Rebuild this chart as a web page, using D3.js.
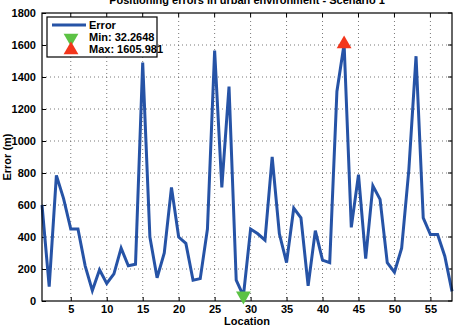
<!DOCTYPE html>
<html>
<head>
<meta charset="utf-8">
<script src="https://cdn.jsdelivr.net/npm/d3@7"></script>
<style>
body { margin: 0; background: #fff; }
text { font-family: "Liberation Sans", Arial, sans-serif; font-weight: bold; }
</style>
</head>
<body>
<svg class="theSvg" width="458" height="326"></svg>
<script>
// location index 1..58 and the error at each one (metres)
var locations = d3.range(1, 59);
var errors = [600, 90, 785, 640, 450, 450, 220, 65, 195, 110,
              170, 330, 220, 230, 1490, 400, 145, 300, 710, 400,
              360, 130, 140, 450, 1565, 710, 1340, 130, 32.2648, 450,
              420, 380, 900, 420, 240, 580, 520, 95, 440, 255,
              240, 1310, 1605.981, 460, 790, 265, 720, 635, 240, 180,
              330, 820, 1530, 520, 415, 415, 280, 60];
var xTicks = [5, 10, 15, 20, 25, 30, 35, 40, 45, 50, 55];
var yTicks = [0, 200, 400, 600, 800, 1000, 1200, 1400, 1600, 1800];
var legendLabels = ["Error", "Min:  32.2648", "Max: 1605.981"];

var margins = {"left": 42, "top": 13, "right": 6, "bottom": 25};
var w = 458 - margins.left - margins.right;
var h = 326 - margins.top - margins.bottom;

var lineBlue = "#2653a6";

var x = d3.scaleLinear().domain([1, 58]).range([0, w]);
var y = d3.scaleLinear().domain([0, 1800]).range([h, 0]);

var theSvg = d3.select(".theSvg")
			.append("g")
			.attr("transform", "translate(" + margins.left + "," + margins.top + ")");

// dotted grid
theSvg.selectAll(".vgrid").data(xTicks).enter()
	.append("line")
	.attr("x1", function(d){ return x(d); })
	.attr("x2", function(d){ return x(d); })
	.attr("y1", 0).attr("y2", h)
	.attr("stroke", "#555").attr("stroke-width", 0.8)
	.attr("stroke-dasharray", "1,3");

theSvg.selectAll(".hgrid").data(yTicks.slice(1, -1)).enter()
	.append("line")
	.attr("x1", 0).attr("x2", w)
	.attr("y1", function(d){ return y(d); })
	.attr("y2", function(d){ return y(d); })
	.attr("stroke", "#555").attr("stroke-width", 0.8)
	.attr("stroke-dasharray", "1,3");

// axes, ticks pointing inward
var xAxis = theSvg.append("g")
	.attr("transform", "translate(0," + h + ")")
	.call(d3.axisBottom(x).tickValues(xTicks).tickFormat(d3.format("d"))
		.tickSizeInner(-4).tickSizeOuter(0).tickPadding(4));
var yAxis = theSvg.append("g")
	.call(d3.axisLeft(y).tickValues(yTicks).tickFormat(d3.format("d"))
		.tickSizeInner(-4).tickSizeOuter(0).tickPadding(6));
[xAxis, yAxis].forEach(function(a){
	a.select(".domain").remove();
	a.selectAll("text").attr("font-size", "11px").attr("fill", "#000")
		.style("font-family", "'Liberation Sans', Arial, sans-serif").style("font-weight", "bold");
	a.selectAll("line").attr("stroke", "#000");
});

// top/right ticks
theSvg.selectAll(".tt").data(xTicks).enter().append("line")
	.attr("x1", function(d){ return x(d); }).attr("x2", function(d){ return x(d); })
	.attr("y1", 0).attr("y2", 4).attr("stroke", "#000");
theSvg.selectAll(".rt").data(yTicks).enter().append("line")
	.attr("x1", w).attr("x2", w - 4)
	.attr("y1", function(d){ return y(d); }).attr("y2", function(d){ return y(d); })
	.attr("stroke", "#000");

// the error line
theSvg.append("path")
	.datum(errors)
	.attr("d", d3.line()
		.x(function(d, i){ return x(locations[i]); })
		.y(function(d){ return y(d); }))
	.attr("fill", "none")
	.attr("stroke", lineBlue)
	.attr("stroke-width", 3)
	.attr("stroke-linejoin", "miter");

// box
theSvg.append("rect")
	.attr("width", w).attr("height", h)
	.attr("fill", "none").attr("stroke", "#000").attr("stroke-width", 1.2);

// min / max markers
var minI = d3.minIndex(errors), maxI = d3.maxIndex(errors);
var tri = d3.symbol().type(d3.symbolTriangle).size(95);
theSvg.append("path")
	.attr("d", tri)
	.attr("transform", "translate(" + x(locations[minI]) + "," + y(errors[minI]) + ") rotate(180)")
	.attr("fill", "#5cc244");
theSvg.append("path")
	.attr("d", tri)
	.attr("transform", "translate(" + x(locations[maxI]) + "," + y(errors[maxI]) + ")")
	.attr("fill", "#f3361c");

// legend
var leg = theSvg.append("g").attr("transform", "translate(5,4)");
leg.append("rect")
	.attr("width", 110).attr("height", 40)
	.attr("fill", "#fff").attr("stroke", "#000").attr("stroke-width", 1.2);
leg.append("line")
	.attr("x1", 5).attr("x2", 39).attr("y1", 8).attr("y2", 8)
	.attr("stroke", lineBlue).attr("stroke-width", 3);
leg.append("path").attr("d", tri)
	.attr("transform", "translate(24,21) rotate(180)").attr("fill", "#5cc244");
leg.append("path").attr("d", tri)
	.attr("transform", "translate(24,33)").attr("fill", "#f3361c");
leg.selectAll(".legText").data(legendLabels).enter()
	.append("text")
	.attr("x", 42)
	.attr("y", function(d, i){ return 12 + i * 12; })
	.attr("font-size", "11px")
	.text(function(d){ return d; });

// labels
theSvg.append("text")
	.attr("x", w / 2).attr("y", -9)
	.attr("text-anchor", "middle").attr("font-size", "11px")
	.text("Positioning errors in urban environment - Scenario 1");
theSvg.append("text")
	.attr("x", w / 2).attr("y", h + 24)
	.attr("text-anchor", "middle").attr("font-size", "11px")
	.text("Location");
theSvg.append("text")
	.attr("transform", "translate(-31," + (h / 2) + ") rotate(-90)")
	.attr("text-anchor", "middle").attr("font-size", "11px")
	.text("Error (m)");
</script>
</body>
</html>
